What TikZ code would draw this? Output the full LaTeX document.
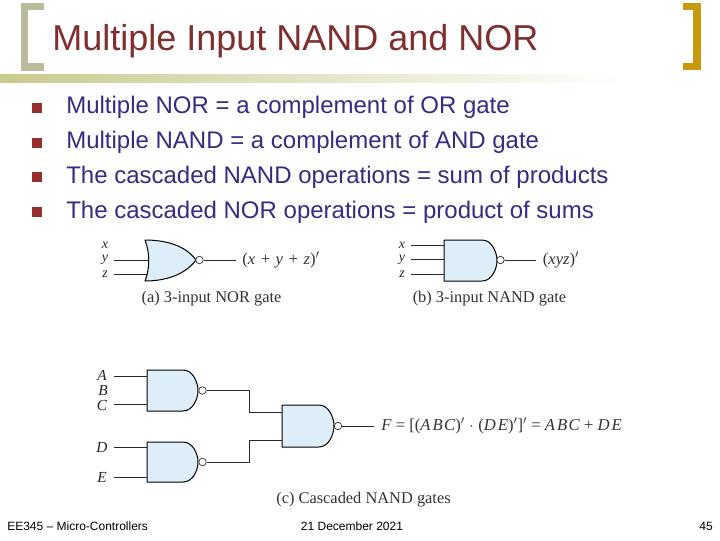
\documentclass[tikz,border=0pt]{standalone}
\usepackage{fontspec}
\setmainfont{Liberation Serif}
\newfontfamily\arialf{Liberation Sans}
\usetikzlibrary{fadings,calc}
\definecolor{titlec}{HTML}{7F2F30}
\definecolor{bodyc}{HTML}{3A2A82}
\definecolor{bulletc}{HTML}{96302F}
\definecolor{lbr}{HTML}{BABB9C}
\definecolor{rbr}{HTML}{C79A0E}
\definecolor{barc}{HTML}{C9CB8E}
\definecolor{gatec}{HTML}{DDEEF9}
\definecolor{wirec}{HTML}{2A2A2A}
\tikzset{
 x=0.75pt,y=-0.75pt,
 gate/.style={draw=black,fill=gatec,line width=0.75pt,line join=round},
 bubble/.style={circle,draw=wirec,fill=white,line width=0.5pt,minimum size=5.6pt,inner sep=0pt},
 wire/.style={draw=wirec,line width=0.6pt},
 bodytext/.style={anchor=west,text=bodyc,font=\arialf\fontsize{18}{20}\selectfont,inner sep=0pt},
 foot/.style={text=black,font=\arialf\fontsize{9}{10}\selectfont,inner sep=0pt},
 lab/.style={font=\fontsize{10.5}{11}\selectfont\itshape,text=black!85,inner sep=0pt},
 biglab/.style={font=\fontsize{11.5}{12}\selectfont\itshape,text=black!85,inner sep=0pt},
 formula/.style={font=\fontsize{12.5}{14}\selectfont,text=black!80,inner sep=0pt},
 captext/.style={font=\fontsize{12.3}{14}\selectfont,text=black!80,inner sep=0pt},
 bul/.style={fill=bulletc,minimum size=7.5pt,inner sep=0pt},
}
\newcommand{\nandshape}[4]{% x,top,right,bottom
 \path[gate] (#1,#2) -- ({#3-15},#2)
   .. controls ({#3-5},#2) and (#3,{(#2+#4)/2-8}) .. (#3,{(#2+#4)/2})
   .. controls (#3,{(#2+#4)/2+8}) and ({#3-5},#4) .. ({#3-15},#4)
   -- (#1,#4) -- cycle;}
\begin{document}
\begin{tikzpicture}
\useasboundingbox (0,0) rectangle (720,540);
\fill[white] (0,0) rectangle (720,540);
% frame
\fill[barc,path fading=east] (0,74) rectangle (620,83);
\fill[lbr] (21,3) rectangle (44,71);
\fill[white] (28,10) rectangle (44,63);
\fill[rbr] (683,3) rectangle (701,70);
\fill[white] (683,10) rectangle (693,63);
\node[anchor=west,text=titlec,font=\arialf\fontsize{27}{30}\selectfont,inner sep=0pt] (title) at (52,41) {Multiple Input NAND and NOR};
% bullets and text
\foreach \n/\y in {1/108,2/142.5,3/177,4/212}{\node[bul] (b\n) at (37,\y) {};}
\node[bodytext] (t1) at (66,107) {Multiple NOR = a complement of OR gate};
\node[bodytext] (t2) at (66,142) {Multiple NAND = a complement of AND gate};
\node[bodytext] (t3) at (66,177) {The cascaded NAND operations = sum of products};
\node[bodytext] (t4) at (66,212) {The cascaded NOR operations = product of sums};
% (a) NOR
\path[gate] (145,240) .. controls (165,240) and (185,245) .. (196,260)
   .. controls (185,275) and (165,281) .. (145,281)
   .. controls (150,268) and (150,253) .. (145,240) -- cycle;
\node[bubble] (an) at (199.5,260) {};
\coordinate (ao) at (236,260);
\draw[wire] (an) -- (ao);
\coordinate (ay1) at (114,260); \coordinate (ay2) at (149,260);
\coordinate (az1) at (114,274); \coordinate (az2) at (148,274);
\draw[wire] (ay1) -- (ay2);
\draw[wire] (az1) -- (az2);
\node[lab] (lax) at (105,245) {x};
\node[lab] (lay) at (105,259.5) {y};
\node[lab] (laz) at (105,274) {z};
\node[formula] (lao) at (281,260) {(\textit{x}\,\,+\,\,\textit{y}\,\,+\,\,\textit{z})$'$};
\node[captext] (capa) at (211.5,299) {(a) 3-input NOR gate};
% (b) NAND
\nandshape{444}{240}{497}{281}
\node[bubble] (bn) at (500.5,260) {};
\coordinate (bo) at (536,260);
\draw[wire] (bn) -- (bo);
\foreach \n/\y/\t in {x/245/x,y/259.5/y,z/274/z}{
 \coordinate (b\n1) at (411,\y); \coordinate (b\n2) at (444,\y);
 \draw[wire] (b\n1) -- (b\n2);
 \node[lab] (lb\n) at (402,\y) {\t};
}
\node[formula] (lbo) at (561,260) {(\textit{xyz})$'$};
\node[captext] (capb) at (489.5,299) {(b) 3-input NAND gate};
% (c) cascade
\nandshape{147}{370}{198}{411}
\nandshape{147}{442}{198}{482}
\nandshape{282}{405}{334}{447}
\node[bubble] (g1n) at (202.5,390.5) {};
\node[bubble] (g2n) at (202.5,462) {};
\node[bubble] (g3n) at (338,426) {};
\coordinate (j1) at (249,412); \coordinate (g3a) at (282,412);
\coordinate (j2) at (249,440); \coordinate (g3b) at (282,440);
\draw[wire] (g1n) -| (j1) -- (g3a);
\draw[wire] (g2n) -| (j2) -- (g3b);
\coordinate (co) at (374,426);
\draw[wire] (g3n) -- (co);
\foreach \n/\y in {A/376,C/404,D/447,E/477}{
 \coordinate (c\n1) at (114,\y); \coordinate (c\n2) at (147,\y);
 \draw[wire] (c\n1) -- (c\n2);
}
\node[biglab] (lA) at (102,375) {A};
\node[biglab] (lB) at (103,390) {B};
\node[biglab] (lC) at (102,405) {C};
\node[biglab] (lD) at (102,447) {D};
\node[biglab] (lE) at (102,477) {E};
\node[formula,anchor=west] (lF) at (381,426) {\textit{F} = [(\textit{A\kern1.5pt B\kern1pt C})$'\;\cdot\;$(\textit{D\kern1.5pt E})$'$]$'$ = \textit{A\kern1.5pt B\kern1pt C} + \textit{D\kern1.5pt E}};
\node[captext] (capc) at (363.5,500) {(c) Cascaded NAND gates};
% footer
\node[foot,anchor=west] (f1) at (7,526) {EE345 – Micro-Controllers};
\node[foot] (f2) at (352,526) {21 December 2021};
\node[foot,anchor=east] (f3) at (713,526) {45};
\end{tikzpicture}
\end{document}
